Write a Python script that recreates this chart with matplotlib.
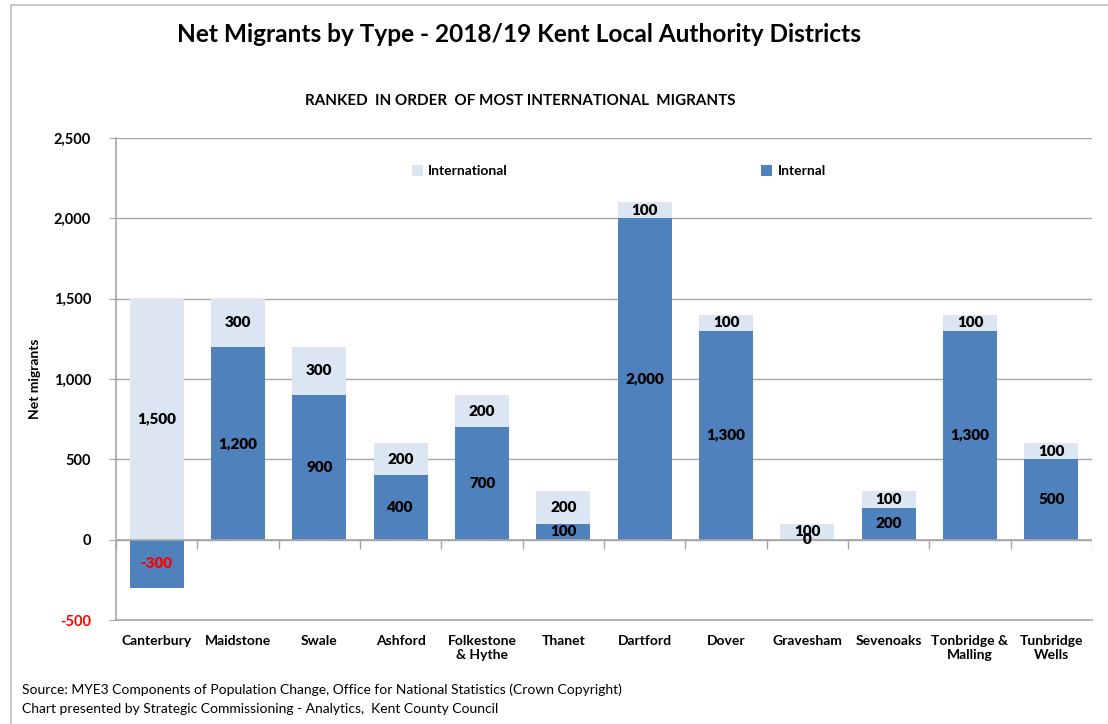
import matplotlib
matplotlib.use("Agg")
import matplotlib.pyplot as plt
import numpy as np
from matplotlib.patches import Rectangle

districts = ["Canterbury", "Maidstone", "Swale", "Ashford", "Folkestone\n& Hythe", "Thanet",
             "Dartford", "Dover", "Gravesham", "Sevenoaks", "Tonbridge &\nMalling", "Tunbridge\nWells"]
internal = [-300, 1200, 900, 400, 700, 100, 2000, 1300, 0, 200, 1300, 500]
international = [1500, 300, 300, 200, 200, 200, 100, 100, 100, 100, 100, 100]
yticks = [-500, 0, 500, 1000, 1500, 2000, 2500]

plt.rcParams['font.family'] = ['Lato', 'DejaVu Sans']

BLUE = "#4F81BD"
LIGHT = "#DCE6F2"
GRID = "#A6A6A6"

fig = plt.figure(figsize=(11.08, 7.24), dpi=100)
fig.patches.append(Rectangle((11/1108, -0.1), 2, 1.1 - 5/724, transform=fig.transFigure,
                             fill=False, edgecolor="#BFBFBF", linewidth=1.2))

ax = fig.add_axes([116/1108, 1 - 620/724, (1092 - 116)/1108, (620 - 138)/724])
x = np.arange(len(districts))
w = 0.66
internal_a = np.array(internal)
intl_a = np.array(international)
bottom_intl = np.where(internal_a > 0, internal_a, 0)

ax.bar(x, internal_a, w, color=BLUE, label="Internal", zorder=3)
ax.bar(x, intl_a, w, bottom=bottom_intl, color=LIGHT, label="International", zorder=3)

for xi, v, b, iv in zip(x, internal_a, bottom_intl, intl_a):
    col = "red" if v < 0 else "black"
    ax.text(xi, v / 2, f"{v:,}", ha="center", va="center", fontsize=11, fontweight="heavy",
            color=col, zorder=5)
    ax.text(xi, b + iv / 2, f"{iv:,}", ha="center", va="center", fontsize=11,
            fontweight="heavy", color="black", zorder=5)

ax.set_xlim(-0.5, len(districts) - 0.5)
ax.set_ylim(-500, 2500)
ax.set_yticks(yticks)
ax.set_yticklabels([f"{t:,}" for t in yticks], fontsize=10.5, fontweight="bold")
for lbl, t in zip(ax.get_yticklabels(), yticks):
    if t < 0:
        lbl.set_color("red")
ax.yaxis.grid(True, color=GRID, linewidth=1, zorder=0)
ax.set_axisbelow(True)
ax.tick_params(axis="y", length=5, color=GRID, pad=13)
ax.set_xticks(x)
ax.set_xticklabels(districts, fontsize=10, fontweight="bold", va="top")
ax.tick_params(axis="x", length=0, pad=11)
for s in ["top", "right"]:
    ax.spines[s].set_visible(False)
for s in ["left", "bottom"]:
    ax.spines[s].set_color(GRID)
    ax.spines[s].set_linewidth(1.2)
ax.axhline(0, color=GRID, linewidth=1.2, zorder=4)
bounds = np.arange(len(districts) + 1) - 0.5
ax.vlines(bounds, -60, 0, color=GRID, linewidth=1, zorder=4)

ax.set_ylabel("Net migrants", fontsize=10, fontweight="bold")
ax.yaxis.set_label_coords(-75/976, 0.5)

handles, labels = ax.get_legend_handles_labels()
leg = ax.legend(handles[::-1], labels[::-1], loc="upper center", ncol=2, frameon=False,
                bbox_to_anchor=(0.515, 0.97), columnspacing=18.2, handlelength=0.8,
                handleheight=0.8, handletextpad=0.4, prop={"weight": "bold", "size": 10})

fig.text(519/1108, 1 - 35/724, "Net Migrants by Type - 2018/19 Kent Local Authority Districts",
         ha="center", va="center", fontsize=17.6, fontweight="bold")
fig.text(520/1108, 1 - 101/724, "RANKED  IN ORDER  OF MOST INTERNATIONAL  MIGRANTS",
         ha="center", va="center", fontsize=10.9, fontweight="bold")
fig.text(22/1108, 1 - 690/724, "Source: MYE3 Components of Population Change, Office for National Statistics (Crown Copyright)",
         ha="left", va="center", fontsize=10)
fig.text(22/1108, 1 - 709/724, "Chart presented by Strategic Commissioning - Analytics,  Kent County Council",
         ha="left", va="center", fontsize=10)

fig.savefig("out.png", dpi=100)
